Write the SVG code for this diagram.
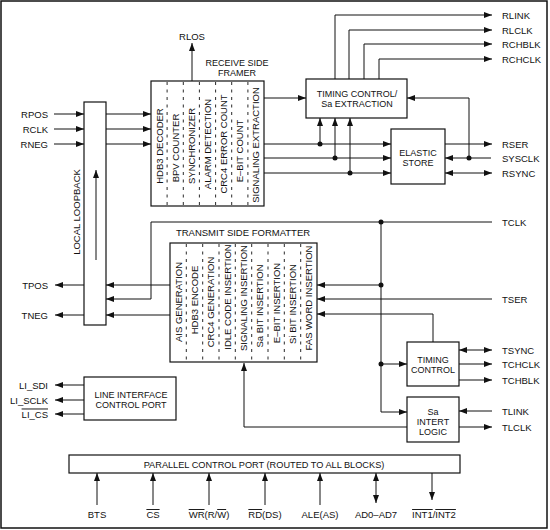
<svg xmlns="http://www.w3.org/2000/svg" width="550" height="530" viewBox="0 0 550 530">
<style>
text{font-family:"Liberation Sans",Arial,sans-serif;font-size:9.5px;fill:#111}
.m{text-anchor:middle}
.e{text-anchor:end}
.t2{font-size:9px}
.box{fill:#fff;stroke:#111;stroke-width:1.2}
.dv{stroke:#111;stroke-width:0.9;stroke-dasharray:3,4.5}
.ln{fill:none;stroke:#111;stroke-width:1}
.ar{marker-end:url(#ah)}
.bi{marker-end:url(#ah);marker-start:url(#ah)}
.ov{text-decoration:overline}
</style>
<defs>
<marker id="ah" viewBox="0 0 8 6" refX="8" refY="3" markerWidth="8" markerHeight="6" markerUnits="userSpaceOnUse" orient="auto-start-reverse"><path d="M0,0 L8,3 L0,6 z" fill="#111"/></marker>
</defs>
<rect x="1" y="1" width="546" height="527" fill="#fff" stroke="#111" stroke-width="1.5"/>

<g id="connectors">
<line class="ln ar" x1="54" y1="114" x2="84" y2="114"/>
<line class="ln ar" x1="54" y1="129" x2="84" y2="129"/>
<line class="ln ar" x1="54" y1="144" x2="84" y2="144"/>
<line class="ln ar" x1="106" y1="114" x2="151" y2="114"/>
<line class="ln ar" x1="106" y1="129" x2="151" y2="129"/>
<line class="ln ar" x1="106" y1="144" x2="151" y2="144"/>
<line class="ln ar" x1="192" y1="81" x2="192" y2="43"/>
<line class="ln ar" x1="264" y1="98" x2="306" y2="98"/>
<line class="ln ar" x1="264" y1="144" x2="391" y2="144"/>
<line class="ln ar" x1="264" y1="158" x2="391" y2="158"/>
<line class="ln ar" x1="264" y1="173" x2="391" y2="173"/>
<line class="ln ar" x1="320" y1="144" x2="320" y2="118"/>
<line class="ln ar" x1="335" y1="158" x2="335" y2="118"/>
<line class="ln ar" x1="350" y1="173" x2="350" y2="118"/>
<polyline class="ln ar" points="335,79 335,15 492,15"/>
<polyline class="ln ar" points="349,79 349,30 492,30"/>
<polyline class="ln ar" points="364,79 364,44 492,44"/>
<polyline class="ln ar" points="379,79 379,59 492,59"/>
<line class="ln ar" x1="445" y1="144" x2="492" y2="144"/>
<line class="ln ar" x1="491" y1="158" x2="445" y2="158"/>
<polyline class="ln ar" points="469,158 469,98 407,98"/>
<line class="ln bi" x1="445" y1="173" x2="492" y2="173"/>
<polyline class="ln ar" points="492,222 151,222 151,299 106,299"/>
<polyline class="ln ar" points="381,222 381,412 407,412"/>
<line class="ln ar" x1="381" y1="285" x2="317" y2="285"/>
<line class="ln ar" x1="381" y1="364" x2="407" y2="364"/>
<line class="ln ar" x1="492" y1="299" x2="317" y2="299"/>
<polyline class="ln ar" points="433,342 433,314 317,314"/>
<line class="ln bi" x1="459" y1="350" x2="492" y2="350"/>
<line class="ln ar" x1="459" y1="364" x2="492" y2="364"/>
<line class="ln ar" x1="459" y1="380" x2="492" y2="380"/>
<line class="ln ar" x1="492" y1="411" x2="459" y2="411"/>
<line class="ln ar" x1="459" y1="427" x2="492" y2="427"/>
<polyline class="ln ar" points="407,427 244,427 244,363"/>
<line class="ln ar" x1="170" y1="285" x2="106" y2="285"/>
<line class="ln ar" x1="84" y1="285" x2="55" y2="285"/>
<line class="ln ar" x1="170" y1="315" x2="106" y2="315"/>
<line class="ln ar" x1="84" y1="315" x2="55" y2="315"/>
<line class="ln ar" x1="96" y1="260" x2="96" y2="170"/>
<line class="ln ar" x1="84" y1="385" x2="55" y2="385"/>
<line class="ln ar" x1="84" y1="400" x2="55" y2="400"/>
<line class="ln ar" x1="84" y1="414" x2="55" y2="414"/>
<line class="ln ar" x1="97" y1="505" x2="97" y2="473"/>
<line class="ln ar" x1="153" y1="505" x2="153" y2="473"/>
<line class="ln ar" x1="209" y1="505" x2="209" y2="473"/>
<line class="ln ar" x1="265" y1="505" x2="265" y2="473"/>
<line class="ln ar" x1="320" y1="505" x2="320" y2="473"/>
<line class="ln bi" x1="376" y1="503" x2="376" y2="473"/>
<line class="ln ar" x1="432" y1="473" x2="432" y2="500"/>
<g fill="#111">
<circle cx="320" cy="144" r="2.5"/>
<circle cx="335" cy="158" r="2.5"/>
<circle cx="350" cy="173" r="2.5"/>
<circle cx="469" cy="158" r="2.5"/>
<circle cx="381" cy="222" r="2.5"/>
<circle cx="381" cy="285" r="2.5"/>
<circle cx="381" cy="364" r="2.5"/>
</g>
</g>

<g id="receive-framer">
<rect class="box" x="151" y="81" width="113" height="125"/>
<line class="dv" x1="167.1" y1="82" x2="167.1" y2="206"/>
<line class="dv" x1="183.3" y1="82" x2="183.3" y2="206"/>
<line class="dv" x1="199.4" y1="82" x2="199.4" y2="206"/>
<line class="dv" x1="215.6" y1="82" x2="215.6" y2="206"/>
<line class="dv" x1="231.7" y1="82" x2="231.7" y2="206"/>
<line class="dv" x1="247.9" y1="82" x2="247.9" y2="206"/>
<text class="m t2" x="237" y="66">RECEIVE SIDE</text>
<text class="m t2" x="237" y="76">FRAMER</text>
<text class="m" transform="translate(162.5,146) rotate(-90)">HDB3 DECODER</text>
<text class="m" transform="translate(178.6,148) rotate(-90)">BPV COUNTER</text>
<text class="m" transform="translate(194.8,146) rotate(-90)">SYNCHRONIZER</text>
<text class="m" transform="translate(210.9,144) rotate(-90)">ALARM DETECTION</text>
<text class="m" transform="translate(227,144) rotate(-90)">CRC4 ERROR COUNT</text>
<text class="m" transform="translate(243.2,151) rotate(-90)">E–BIT COUNT</text>
<text class="m" transform="translate(259.3,145) rotate(-90)">SIGNALING EXTRACTION</text>
</g>

<g id="local-loopback">
<rect class="box" x="84" y="102" width="22" height="223" style="fill:none"/>
<text class="m" transform="translate(80,212) rotate(-90)">LOCAL LOOPBACK</text>
</g>

<g id="timing-control-rx">
<rect class="box" x="306" y="79" width="101" height="39"/>
<text class="m t2" x="357" y="96.5">TIMING CONTROL/</text>
<text class="m t2" x="357" y="106.5">Sa EXTRACTION</text>
</g>

<g id="elastic-store">
<rect class="box" x="391" y="129" width="54" height="55"/>
<text class="m t2" x="418" y="155.5">ELASTIC</text>
<text class="m t2" x="418" y="165.5">STORE</text>
</g>

<g id="transmit-formatter">
<rect class="box" x="170" y="243" width="147" height="119"/>
<line class="dv" x1="186.3" y1="244" x2="186.3" y2="362"/>
<line class="dv" x1="202.7" y1="244" x2="202.7" y2="362"/>
<line class="dv" x1="219" y1="244" x2="219" y2="362"/>
<line class="dv" x1="235.3" y1="244" x2="235.3" y2="362"/>
<line class="dv" x1="251.7" y1="244" x2="251.7" y2="362"/>
<line class="dv" x1="268" y1="244" x2="268" y2="362"/>
<line class="dv" x1="284.3" y1="244" x2="284.3" y2="362"/>
<line class="dv" x1="300.7" y1="244" x2="300.7" y2="362"/>
<text class="m" x="243" y="235.5">TRANSMIT SIDE FORMATTER</text>
<text class="m" transform="translate(181.6,302) rotate(-90)">AIS GENERATION</text>
<text class="m" transform="translate(197.9,300) rotate(-90)">HDB3 ENCODE</text>
<text class="m" transform="translate(214.2,302) rotate(-90)">CRC4 GENERATION</text>
<text class="m" transform="translate(230.6,297) rotate(-90)">IDLE CODE INSERTION</text>
<text class="m" transform="translate(246.9,298) rotate(-90)">SIGNALING INSERTION</text>
<text class="m" transform="translate(263.2,306) rotate(-90)">Sa BIT INSERTION</text>
<text class="m" transform="translate(279.6,303) rotate(-90)">E–BIT INSERTION</text>
<text class="m" transform="translate(295.9,304) rotate(-90)">Si BIT INSERTION</text>
<text class="m" transform="translate(312.2,298) rotate(-90)">FAS WORD INSERTION</text>
</g>

<g id="timing-control-tx">
<rect class="box" x="407" y="342" width="52" height="44"/>
<text class="m t2" x="433" y="363">TIMING</text>
<text class="m t2" x="433" y="373">CONTROL</text>
</g>

<g id="sa-intert-logic">
<rect class="box" x="407" y="397" width="52" height="45"/>
<text class="m t2" x="433" y="414.5">Sa</text>
<text class="m t2" x="433" y="424.5">INTERT</text>
<text class="m t2" x="433" y="434.5">LOGIC</text>
</g>

<g id="line-interface-port">
<rect class="box" x="84" y="377" width="92" height="43"/>
<text class="m t2" x="131" y="398">LINE INTERFACE</text>
<text class="m t2" x="131" y="408">CONTROL PORT</text>
</g>

<g id="parallel-port">
<rect class="box" x="69" y="455" width="391" height="18"/>
<text class="m" x="264" y="467.5" style="font-size:9.2px">PARALLEL CONTROL PORT (ROUTED TO ALL BLOCKS)</text>
</g>

<g id="labels">
<text x="192" y="39.5" class="m">RLOS</text>
<text x="48" y="117.5" class="e">RPOS</text>
<text x="48" y="132.5" class="e">RCLK</text>
<text x="48" y="147.5" class="e">RNEG</text>
<text x="502" y="18.5">RLINK</text>
<text x="502" y="33.5">RLCLK</text>
<text x="502" y="47.5">RCHBLK</text>
<text x="502" y="62.5">RCHCLK</text>
<text x="502" y="147.5">RSER</text>
<text x="502" y="161.5">SYSCLK</text>
<text x="502" y="176.5">RSYNC</text>
<text x="502" y="225.5">TCLK</text>
<text x="502" y="302.5">TSER</text>
<text x="502" y="353.5">TSYNC</text>
<text x="502" y="367.5">TCHCLK</text>
<text x="502" y="383.5">TCHBLK</text>
<text x="502" y="414.5">TLINK</text>
<text x="502" y="430.5">TLCLK</text>
<text x="48" y="288.5" class="e">TPOS</text>
<text x="48" y="318.5" class="e">TNEG</text>
<text x="48" y="388.5" class="e">LI_SDI</text>
<text x="48" y="403.5" class="e">LI_SCLK</text>
<text x="48" y="417.5" class="e"><tspan class="ov">LI_CS</tspan></text>
<text x="97" y="518" class="m">BTS</text>
<text x="153" y="518" class="m"><tspan class="ov">CS</tspan></text>
<text x="209" y="518" class="m"><tspan class="ov">WR</tspan>(R/<tspan class="ov">W</tspan>)</text>
<text x="265" y="518" class="m"><tspan class="ov">RD</tspan>(DS)</text>
<text x="320" y="518" class="m">ALE(AS)</text>
<text x="376" y="518" class="m">AD0–AD7</text>
<text x="434" y="518" class="m"><tspan class="ov">INT1</tspan>/<tspan class="ov">INT2</tspan></text>
</g>
</svg>
